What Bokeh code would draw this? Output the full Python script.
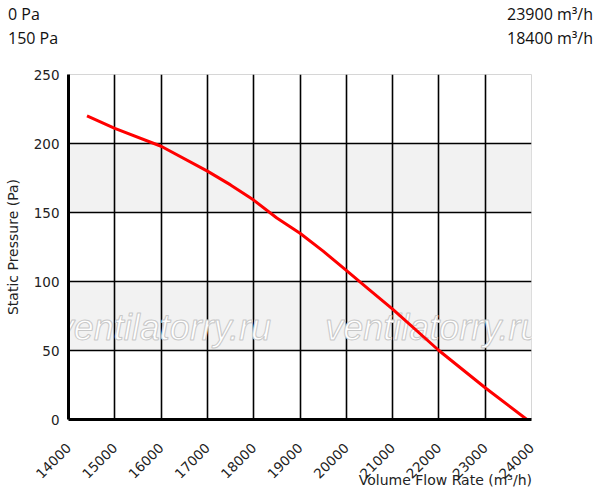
import math
from bokeh.plotting import figure
from bokeh.layouts import column
from bokeh.models import FixedTicker, Div
from bokeh.core.properties import value
from bokeh.embed import file_html
from bokeh.resources import INLINE

# ---- data ----
flow = [14400, 15000, 16000, 17000, 17500, 18000, 18500, 19000, 19500, 20000,
        20500, 21000, 22000, 23000, 23900]
pressure = [220, 211, 198, 180, 170, 159, 146, 135, 122, 108,
            94, 80, 50, 23, 0]

x_ticks = [14000, 15000, 16000, 17000, 18000, 19000, 20000, 21000, 22000, 23000, 24000]
y_ticks = [0, 50, 100, 150, 200, 250]
x_grid = [15000, 16000, 17000, 18000, 19000, 20000, 21000, 22000, 23000]
y_grid = [50, 100, 150, 200]
band_bottoms = [50, 150]
band_tops = [100, 200]

header_left = ["0 Pa", "150 Pa"]
header_right = ["23900 m\u00b3/h", "18400 m\u00b3/h"]
x_title = "Volume Flow Rate (m\u00b3/h)"
y_title = "Static Pressure (Pa)"

watermark_text = ["ventilatorry.ru", "ventilatorry.ru"]
watermark_x = [16050, 21870]
watermark_y = [67, 67]

# ---- sizes (px) ----
PAGE_W = 597
HEAD_H, FOOT_H = 45, 2
BL, BR, BT, BB = 68, 66, 29, 71
FRAME_H = 345
FIG_H = BT + FRAME_H + BB

# ---- header: two rows, left and right ----
header_html = (
    '<div style="position:relative;top:2px;box-sizing:border-box;width:%dpx;'
    'padding:0 4px 0 8px;display:flex;justify-content:space-between;'
    'font-family:\'Open Sans\';font-size:16px;line-height:24px;color:#111111;'
    'white-space:nowrap;">'
    '<div style="text-align:left">%s</div>'
    '<div style="text-align:right">%s</div></div>'
    % (PAGE_W, "<br>".join(header_left), "<br>".join(header_right))
)
header = Div(text=header_html, width=PAGE_W, height=HEAD_H, margin=(0, 0, 0, 0),
             styles={"overflow": "visible"})

# ---- main chart ----
p = figure(width=PAGE_W, height=FIG_H, x_range=(x_ticks[0], x_ticks[-1]),
           y_range=(y_ticks[0], y_ticks[-1]), output_backend="svg",
           toolbar_location=None, min_border_left=BL, min_border_right=BR,
           min_border_top=BT, min_border_bottom=BB, margin=(0, 0, 0, 0))
p.background_fill_color = "white"
p.outline_line_color = "#d6d6d6"
p.outline_line_width = 1

# alternating bands
p.quad(left=[x_ticks[0]] * len(band_bottoms), right=[x_ticks[-1]] * len(band_bottoms),
       bottom=band_bottoms, top=band_tops, fill_color="#f2f2f2", line_color=None,
       level="image")

p.xgrid.ticker = FixedTicker(ticks=x_grid)
p.ygrid.ticker = FixedTicker(ticks=y_grid)
p.grid.grid_line_color = "black"
p.grid.grid_line_width = 1.6

# watermark
p.text(x=watermark_x, y=watermark_y, text=watermark_text,
       text_font=value("Liberation Sans"), text_font_style="italic",
       text_font_size="36px", text_color="white", text_outline_color="#c8c8c8",
       text_align="center", text_baseline="middle")

# curve
p.line(flow, pressure, line_color="#ff0000", line_width=3)

# axes
p.xaxis.ticker = FixedTicker(ticks=x_ticks)
p.yaxis.ticker = FixedTicker(ticks=y_ticks)
for ax in (p.xaxis[0], p.yaxis[0]):
    ax.axis_line_color = "black"
    ax.axis_line_width = 3
    ax.major_tick_line_color = None
    ax.minor_tick_line_color = None
    ax.major_tick_out = 0
    ax.major_tick_in = 0
    ax.major_label_text_font = "DejaVu Sans"
    ax.major_label_text_font_size = "13.5px"
    ax.major_label_text_color = "#222222"
    ax.axis_label_text_font = "DejaVu Sans"
    ax.axis_label_text_font_size = "14px"
    ax.axis_label_text_font_style = "normal"
    ax.axis_label_text_color = "#222222"

p.yaxis.axis_label = y_title
p.yaxis.major_label_standoff = 9
p.yaxis.axis_label_standoff = 10

p.xaxis.major_label_orientation = math.pi / 4
p.xaxis.major_label_standoff = 26

# ---- footer: x-axis title, right-aligned under the frame's right edge ----
footer_html = (
    '<div style="position:relative;top:-17px;box-sizing:border-box;width:%dpx;'
    'padding-right:%dpx;text-align:right;font-family:\'DejaVu Sans\';'
    'font-size:14px;line-height:14px;color:#222222;white-space:nowrap;">%s</div>'
    % (PAGE_W, BR - 1, x_title)
)
footer = Div(text=footer_html, width=PAGE_W, height=FOOT_H, margin=(0, 0, 0, 0),
             styles={"overflow": "visible"})

layout = column(header, p, footer, spacing=0)
open("out.html", "w").write(file_html(layout, INLINE))
